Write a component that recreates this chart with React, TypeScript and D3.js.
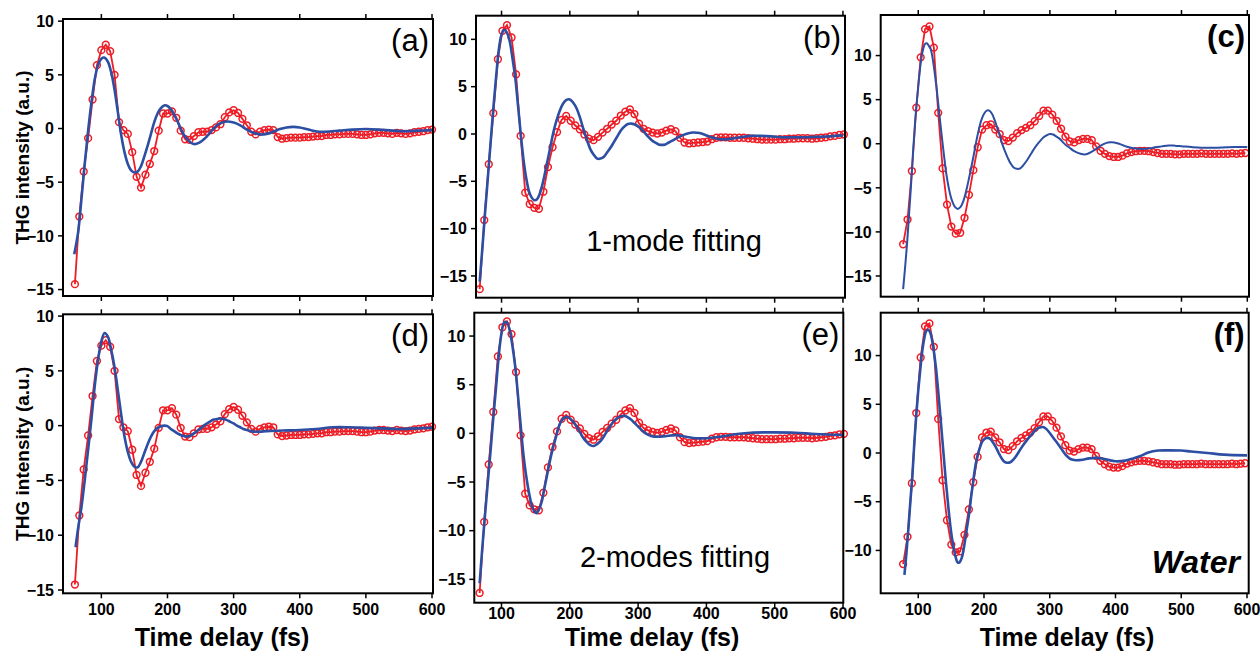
import React from 'react';
import * as d3 from 'd3';

// measured THG traces (three samples), delay in fs
const delayA = [60, 66.7, 73.3, 80, 86.7, 93.3, 100, 106.7, 113.3, 120, 126.7, 133.3, 140, 146.7, 153.3, 160, 166.7, 173.3, 180, 186.7, 193.3, 200, 206.7, 213.3, 220, 226.7, 233.3, 240, 246.7, 253.3, 260, 266.7, 273.3, 280, 286.7, 293.3, 300, 306.7, 313.3, 320, 326.7, 333.3, 340, 346.7, 353.3, 360, 366.7, 373.3, 380, 386.7, 393.3, 400, 406.7, 413.3, 420, 426.7, 433.3, 440, 446.7, 453.3, 460, 466.7, 473.3, 480, 486.7, 493.3, 500, 506.7, 513.3, 520, 526.7, 533.3, 540, 546.7, 553.3, 560, 566.7, 573.3, 580, 586.7, 593.3, 600];
const signalA = [-14.5, -8.2, -4.0, -0.9, 2.7, 5.9, 7.3, 7.8, 7.2, 5.0, 0.6, -0.15, -0.5, -2.2, -4.5, -5.5, -4.3, -3.3, -2.1, -0.2, 1.4, 1.4, 1.6, 1.0, -0.2, -1.0, -1.05, -0.7, -0.35, -0.3, -0.3, -0.15, 0.1, 0.4, 1.05, 1.5, 1.7, 1.45, 0.9, 0.3, -0.3, -0.55, -0.3, -0.15, -0.1, -0.15, -0.8, -0.95, -0.9, -0.85, -0.85, -0.85, -0.8, -0.8, -0.75, -0.7, -0.7, -0.6, -0.6, -0.55, -0.55, -0.5, -0.5, -0.5, -0.55, -0.6, -0.6, -0.55, -0.45, -0.4, -0.4, -0.45, -0.5, -0.4, -0.45, -0.5, -0.45, -0.35, -0.3, -0.25, -0.15, -0.1];

const delayB = [68, 74.7, 81.3, 88, 94.7, 101.3, 108, 114.7, 121.3, 128, 134.7, 141.3, 148, 154.7, 161.3, 168, 174.7, 181.3, 188, 194.7, 201.3, 208, 214.7, 221.3, 228, 234.7, 241.3, 248, 254.7, 261.3, 268, 274.7, 281.3, 288, 294.7, 301.3, 308, 314.7, 321.3, 328, 334.7, 341.3, 348, 354.7, 361.3, 368, 374.7, 381.3, 388, 394.7, 401.3, 408, 414.7, 421.3, 428, 434.7, 441.3, 448, 454.7, 461.3, 468, 474.7, 481.3, 488, 494.7, 501.3, 508, 514.7, 521.3, 528, 534.7, 541.3, 548, 554.7, 561.3, 568, 574.7, 581.3, 588, 594.7, 601.3];
const signalB = [-16.4, -9.1, -3.2, 2.2, 7.9, 10.9, 11.5, 10.2, 6.3, -0.2, -6.2, -7.4, -7.8, -7.9, -6.1, -3.5, -1.4, 0.2, 1.5, 1.9, 1.4, 0.9, 0.5, -0.05, -0.5, -0.65, -0.3, 0.15, 0.55, 1.0, 1.4, 1.95, 2.35, 2.6, 2.1, 1.1, 0.55, 0.3, 0.15, 0.05, 0.15, 0.35, 0.5, 0.3, -0.4, -0.9, -1.0, -0.95, -0.9, -0.85, -0.8, -0.55, -0.4, -0.35, -0.35, -0.4, -0.4, -0.4, -0.4, -0.45, -0.5, -0.55, -0.6, -0.6, -0.6, -0.6, -0.55, -0.55, -0.5, -0.5, -0.45, -0.45, -0.45, -0.5, -0.45, -0.4, -0.35, -0.25, -0.2, -0.1, -0.05];

const delayC = [77, 83.7, 90.3, 97, 103.7, 110.3, 117, 123.7, 130.3, 137, 143.7, 150.3, 157, 163.7, 170.3, 177, 183.7, 190.3, 197, 203.7, 210.3, 217, 223.7, 230.3, 237, 243.7, 250.3, 257, 263.7, 270.3, 277, 283.7, 290.3, 297, 303.7, 310.3, 317, 323.7, 330.3, 337, 343.7, 350.3, 357, 363.7, 370.3, 377, 383.7, 390.3, 397, 403.7, 410.3, 417, 423.7, 430.3, 437, 443.7, 450.3, 457, 463.7, 470.3, 477, 483.7, 490.3, 497, 503.7, 510.3, 517, 523.7, 530.3, 537, 543.7, 550.3, 557, 563.7, 570.3, 577, 583.7, 590.3, 597];
const signalC = [-11.4, -8.6, -3.1, 4.1, 9.8, 13.0, 13.3, 10.9, 3.5, -2.8, -6.9, -9.4, -10.2, -10.1, -8.4, -5.8, -3.0, -0.4, 1.6, 2.1, 2.2, 1.6, 1.1, 0.4, 0.3, 0.7, 1.2, 1.55, 1.8, 2.1, 2.55, 3.15, 3.75, 3.75, 3.3, 2.6, 1.7, 0.8, 0.25, 0.15, 0.4, 0.55, 0.55, 0.4, -0.3, -0.8, -1.15, -1.4, -1.5, -1.5, -1.35, -1.1, -0.95, -0.85, -0.8, -0.8, -0.85, -0.95, -1.05, -1.15, -1.15, -1.15, -1.2, -1.2, -1.15, -1.15, -1.15, -1.15, -1.1, -1.15, -1.15, -1.15, -1.15, -1.15, -1.15, -1.1, -1.15, -1.1, -1.05];

// fitted curves [delay, intensity]
const fitA: [number, number][] = [[59, -11.7], [65, -9.6], [70, -6.5], [75, -3.2], [80, -0.2], [85, 2.4], [90, 4.6], [95, 5.9], [100, 6.5], [105, 6.6], [110, 6.2], [115, 5.2], [120, 3.6], [125, 1.5], [130, -0.6], [135, -2.2], [140, -3.3], [145, -3.9], [150, -4.1], [155, -4.0], [160, -3.5], [165, -2.6], [170, -1.6], [175, -0.5], [180, 0.6], [185, 1.4], [190, 1.9], [195, 2.15], [200, 2.1], [205, 1.8], [210, 1.3], [215, 0.7], [220, 0.0], [225, -0.6], [230, -1.0], [235, -1.3], [240, -1.45], [245, -1.4], [250, -1.25], [255, -1.0], [260, -0.7], [265, -0.35], [270, 0.0], [275, 0.3], [280, 0.5], [290, 0.65], [300, 0.55], [310, 0.3], [320, -0.1], [330, -0.4], [340, -0.55], [350, -0.5], [360, -0.3], [370, -0.05], [380, 0.1], [390, 0.15], [400, 0.1], [410, -0.05], [420, -0.2], [430, -0.3], [440, -0.3], [460, -0.2], [480, -0.1], [500, -0.05], [520, -0.1], [540, -0.2], [560, -0.25], [580, -0.2], [600, -0.15]];
const fitB: [number, number][] = [[68, -15.6], [72, -12.0], [76, -8.2], [80, -4.6], [84, -0.9], [88, 2.7], [92, 6.0], [96, 8.9], [100, 10.5], [104, 11.0], [108, 10.7], [112, 9.8], [116, 8.0], [120, 6.0], [124, 3.1], [128, 0.1], [132, -2.6], [136, -4.6], [140, -6.0], [144, -6.7], [148, -7.0], [152, -6.9], [156, -6.3], [160, -5.3], [164, -4.0], [168, -2.6], [172, -1.2], [176, 0.2], [180, 1.3], [185, 2.4], [190, 3.2], [195, 3.6], [200, 3.65], [205, 3.3], [210, 2.7], [215, 1.7], [220, 0.5], [225, -0.6], [230, -1.6], [235, -2.2], [240, -2.6], [245, -2.6], [250, -2.4], [255, -1.9], [260, -1.4], [265, -0.8], [270, -0.2], [275, 0.4], [280, 0.8], [285, 1.05], [290, 1.1], [295, 1.0], [300, 0.8], [305, 0.5], [310, 0.1], [315, -0.3], [320, -0.65], [325, -0.9], [330, -1.1], [335, -1.15], [340, -1.1], [345, -0.9], [350, -0.7], [360, -0.3], [370, 0.0], [380, 0.15], [390, 0.1], [400, -0.15], [410, -0.4], [420, -0.55], [430, -0.55], [440, -0.45], [450, -0.35], [465, -0.2], [480, -0.2], [495, -0.25], [510, -0.35], [525, -0.35], [540, -0.35], [560, -0.3], [580, -0.25], [600, -0.15]];
const fitC: [number, number][] = [[77, -16.5], [80, -14.0], [83, -11.3], [86, -8.0], [89, -4.7], [92, -1.0], [95, 2.3], [98, 4.9], [101, 7.3], [104, 9.3], [107, 10.6], [110, 11.3], [113, 11.4], [116, 11.1], [119, 10.7], [122, 9.6], [125, 8.0], [128, 6.2], [131, 4.1], [134, 2.0], [137, 0.0], [140, -1.9], [143, -3.6], [146, -4.9], [149, -5.9], [152, -6.6], [156, -7.2], [160, -7.4], [164, -7.2], [168, -6.6], [172, -5.6], [176, -4.3], [180, -2.9], [184, -1.4], [188, 0.2], [192, 1.6], [196, 2.7], [200, 3.4], [204, 3.75], [208, 3.75], [212, 3.4], [216, 2.7], [220, 1.8], [224, 0.9], [228, -0.1], [232, -0.9], [236, -1.6], [240, -2.2], [245, -2.7], [250, -2.85], [255, -2.8], [260, -2.4], [265, -1.9], [270, -1.3], [275, -0.7], [280, -0.15], [285, 0.3], [290, 0.7], [295, 0.95], [300, 1.1], [305, 1.05], [310, 0.8], [315, 0.55], [320, 0.15], [325, -0.2], [330, -0.45], [335, -0.75], [340, -0.95], [345, -1.1], [350, -1.2], [355, -1.2], [360, -1.05], [365, -0.85], [370, -0.6], [375, -0.35], [380, -0.1], [386, 0.1], [392, 0.17], [398, 0.15], [405, 0.0], [412, -0.2], [420, -0.4], [430, -0.55], [440, -0.6], [450, -0.55], [460, -0.4], [470, -0.3], [480, -0.2], [490, -0.22], [500, -0.28], [515, -0.38], [530, -0.45], [550, -0.45], [570, -0.4], [585, -0.38], [600, -0.38]];
const fitD: [number, number][] = [[61, -11.1], [65, -9.3], [70, -7.4], [75, -4.9], [80, -2.2], [85, 0.6], [90, 3.6], [95, 6.0], [100, 7.7], [105, 8.45], [110, 8.1], [115, 6.9], [120, 5.3], [125, 3.2], [130, 1.0], [135, -1.0], [140, -2.4], [145, -3.3], [150, -3.75], [155, -3.8], [160, -3.3], [165, -2.5], [170, -1.7], [175, -1.0], [180, -0.5], [185, -0.2], [190, -0.05], [195, 0.0], [200, -0.05], [205, -0.3], [210, -0.5], [215, -0.7], [220, -0.85], [225, -0.95], [230, -1.0], [235, -0.9], [240, -0.7], [245, -0.5], [250, -0.25], [255, 0.0], [260, 0.2], [265, 0.4], [270, 0.55], [275, 0.6], [280, 0.65], [285, 0.6], [290, 0.5], [295, 0.35], [300, 0.2], [305, 0.0], [310, -0.15], [315, -0.3], [320, -0.4], [330, -0.55], [340, -0.55], [350, -0.5], [375, -0.45], [400, -0.4], [425, -0.3], [450, -0.15], [475, -0.15], [500, -0.2], [525, -0.25], [550, -0.3], [575, -0.25], [600, -0.2]];
const fitE: [number, number][] = [[68, -15.4], [72, -11.7], [76, -8.3], [80, -5.0], [84, -1.8], [88, 1.6], [92, 4.7], [96, 8.0], [100, 10.3], [104, 11.4], [108, 11.4], [112, 10.6], [116, 9.0], [120, 6.9], [124, 4.0], [128, 0.9], [132, -2.1], [136, -4.3], [140, -6.0], [144, -7.3], [148, -8.0], [151, -8.2], [155, -7.8], [159, -7.0], [163, -5.6], [167, -4.2], [171, -2.8], [175, -1.6], [180, -0.3], [185, 0.9], [190, 1.5], [195, 1.7], [200, 1.55], [205, 1.2], [210, 0.7], [215, 0.1], [220, -0.5], [225, -0.9], [230, -1.2], [235, -1.3], [240, -1.1], [245, -0.8], [250, -0.3], [255, 0.3], [260, 0.8], [265, 1.3], [270, 1.6], [275, 1.75], [280, 1.8], [285, 1.65], [290, 1.4], [295, 1.05], [300, 0.7], [305, 0.35], [310, 0.05], [315, -0.15], [320, -0.3], [330, -0.35], [340, -0.28], [355, -0.18], [370, -0.35], [385, -0.5], [400, -0.5], [420, -0.35], [445, -0.07], [465, 0.07], [500, 0.1], [530, 0.07], [560, -0.07], [600, -0.17]];
const fitF: [number, number][] = [[79, -12.5], [82, -10.3], [85, -7.8], [88, -5.0], [91, -2.4], [94, 1.0], [97, 3.9], [100, 6.4], [103, 8.5], [106, 10.4], [109, 11.7], [112, 12.5], [115, 12.65], [118, 12.4], [121, 11.6], [124, 10.3], [127, 8.7], [130, 6.6], [133, 4.3], [136, 1.9], [139, -0.5], [142, -2.9], [145, -5.0], [148, -7.0], [151, -8.6], [154, -9.8], [157, -10.7], [160, -11.25], [163, -11.2], [166, -10.8], [169, -9.9], [172, -8.6], [175, -7.3], [178, -5.9], [181, -4.2], [184, -2.7], [187, -1.3], [190, -0.3], [194, 0.6], [198, 1.25], [202, 1.5], [206, 1.55], [210, 1.4], [214, 1.05], [218, 0.6], [222, 0.05], [226, -0.45], [230, -0.85], [235, -1.0], [240, -0.95], [245, -0.65], [250, -0.2], [255, 0.35], [260, 0.85], [265, 1.3], [270, 1.7], [275, 2.1], [280, 2.45], [285, 2.62], [290, 2.67], [295, 2.45], [300, 2.05], [305, 1.6], [310, 1.15], [315, 0.7], [320, 0.2], [325, -0.25], [330, -0.55], [335, -0.7], [340, -0.75], [350, -0.7], [360, -0.55], [372, -0.5], [385, -0.65], [400, -0.85], [415, -0.78], [425, -0.6], [437, -0.34], [450, 0.05], [465, 0.25], [480, 0.27], [500, 0.25], [515, 0.15], [540, 0.0], [565, -0.17], [600, -0.24]];

const xTicks = [100, 200, 300, 400, 500, 600];
const yTicks = [-15, -10, -5, 0, 5, 10];
const yTicksWater = [-10, -5, 0, 5, 10];

const RED = '#ee1c25';
const BLUE = '#2c4fa3';
const FONT = '"Liberation Sans", Arial, sans-serif';

const panels = [
  { label: '(a)', bold: false, box: [63, 19, 433, 296], xd: [42, 601.5], yd: [-15.6, 10.2], yt: yTicks, delay: delayA, sig: signalA, fit: fitA, fitW: 2.6, xLab: false, yTitle: true },
  { label: '(b)', bold: false, box: [476, 15.7, 845, 297.7], xd: [62.6, 603], yd: [-17.3, 12.5], yt: yTicks, delay: delayB, sig: signalB, fit: fitB, fitW: 2.6, xLab: false, yTitle: false, note: '1-mode fitting', noteXY: [674, 251] },
  { label: '(c)', bold: true, box: [880.7, 15, 1249, 296.7], xd: [42.9, 602.6], yd: [-17.35, 14.6], yt: yTicks, delay: delayC, sig: signalC, fit: fitC, fitW: 2, xLab: false, yTitle: false },
  { label: '(d)', bold: false, box: [63, 314.3, 433, 593.3], xd: [42, 601.5], yd: [-15.3, 10.16], yt: yTicks, delay: delayA, sig: signalA, fit: fitD, fitW: 2.6, xLab: true, labY: 615, yTitle: true, titleX: 222 },
  { label: '(e)', bold: false, box: [474.3, 312.7, 843.3, 602.7], xd: [60.2, 600.4], yd: [-17.4, 12.4], yt: yTicks, delay: delayB, sig: signalB, fit: fitE, fitW: 2.6, xLab: true, labY: 618.5, yTitle: false, titleX: 652, note: '2-modes fitting', noteXY: [675, 567] },
  { label: '(f)', bold: true, box: [880.7, 312.7, 1248.7, 593.3], xd: [42.9, 602.6], yd: [-14.4, 14.4], yt: yTicksWater, delay: delayC, sig: signalC, fit: fitF, fitW: 2.6, xLab: true, labY: 615, yTitle: false, titleX: 1067, water: true },
];

const fmt = (v: number) => (v < 0 ? '\u2212' + Math.abs(v) : String(v));

function Panel({ p }: { p: any }) {
  const [l, t, r, b] = p.box;
  const x = d3.scaleLinear().domain(p.xd).range([l, r]);
  const y = d3.scaleLinear().domain(p.yd).range([b, t]);
  const pts = p.delay.map((d: number, i: number) => [d, p.sig[i]]);
  const dataLine = d3.line<number[]>().x(d => x(d[0])).y(d => y(d[1]));
  const fitLine = d3.line<[number, number]>().curve(d3.curveCatmullRom).x(d => x(d[0])).y(d => y(d[1]));
  const tk = 5;
  return (
    <g>
      <path d={dataLine(pts) || ''} fill="none" stroke={RED} strokeWidth={1.8} />
      {pts.map((d: number[], i: number) => (
        <circle key={i} cx={x(d[0])} cy={y(d[1])} r={3.4} fill="none" stroke={RED} strokeWidth={1.5} />
      ))}
      <path d={fitLine(p.fit) || ''} fill="none" stroke={BLUE} strokeWidth={p.fitW} />
      <rect x={l} y={t} width={r - l} height={b - t} fill="none" stroke="#000" strokeWidth={2} />
      {xTicks.map(v => (
        <g key={'x' + v}>
          <line x1={x(v)} x2={x(v)} y1={b} y2={b + tk} stroke="#000" strokeWidth={1.5} />
          <line x1={x(v)} x2={x(v)} y1={t} y2={t - tk} stroke="#000" strokeWidth={1.5} />
          {p.xLab && (
            <text x={x(v)} y={p.labY} textAnchor="middle" fontFamily={FONT} fontWeight="bold" fontSize={16}>{v}</text>
          )}
        </g>
      ))}
      {p.yt.map((v: number) => (
        <g key={'y' + v}>
          <line x1={l - tk} x2={l} y1={y(v)} y2={y(v)} stroke="#000" strokeWidth={1.5} />
          <text x={l - 9} y={y(v)} dy="0.36em" textAnchor="end" fontFamily={FONT} fontWeight="bold" fontSize={16}>{fmt(v)}</text>
        </g>
      ))}
      <text x={r - 4} y={t + 32} textAnchor="end" fontFamily={FONT} fontWeight={p.bold ? 'bold' : 'normal'} fontSize={31}>{p.label}</text>
      {p.note && (
        <text x={p.noteXY[0]} y={p.noteXY[1]} textAnchor="middle" fontFamily={FONT} fontSize={29}>{p.note}</text>
      )}
      {p.water && (
        <text x={1240} y={573} textAnchor="end" fontFamily={FONT} fontWeight="bold" fontStyle="italic" fontSize={32}>Water</text>
      )}
      {p.yTitle && (
        <text transform={`translate(22,${(t + b) / 2}) rotate(-90)`} dy="0.35em" textAnchor="middle" fontFamily={FONT} fontWeight="bold" fontSize={19}>THG intensity (a.u.)</text>
      )}
      {p.xLab && (
        <text x={p.titleX} y={646} textAnchor="middle" fontFamily={FONT} fontWeight="bold" fontSize={25}>Time delay (fs)</text>
      )}
    </g>
  );
}

export default function App() {
  return (
    <svg width={1260} height={651} style={{ position: 'absolute', left: 0, top: 0, background: '#fff' }}>
      {panels.map(p => <Panel key={p.label} p={p} />)}
    </svg>
  );
}
